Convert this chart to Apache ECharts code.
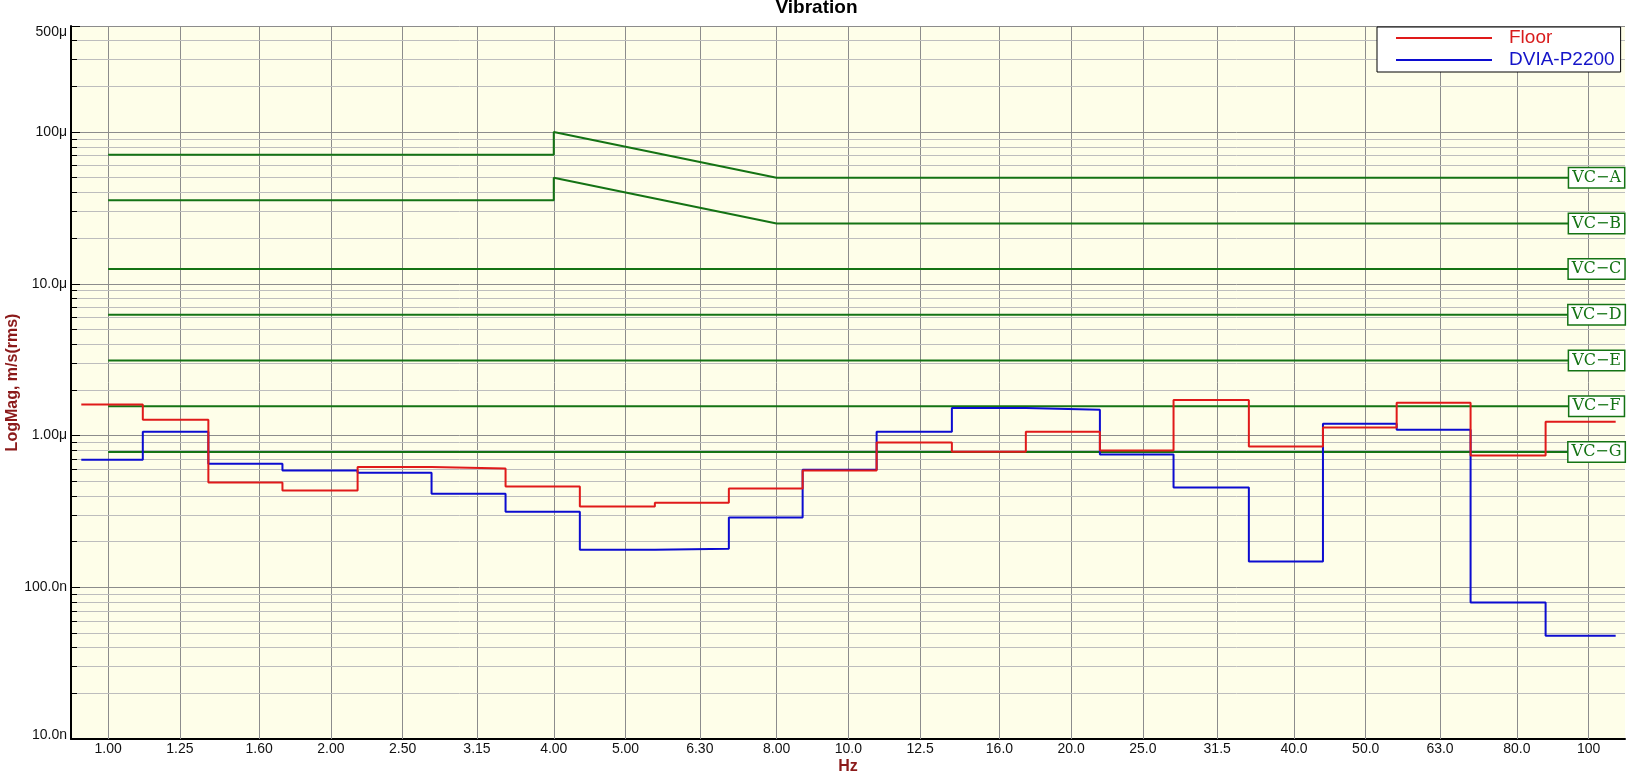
<!DOCTYPE html>
<html>
<head>
<meta charset="utf-8">
<title>Vibration</title>
<script src="https://cdn.jsdelivr.net/npm/echarts@6/dist/echarts.min.js"></script>
<style>
  html, body { margin: 0; padding: 0; background: #fff; }
  #vib { width: 1633px; height: 776px; }
</style>
</head>
<body>
<div id="vib"></div>
<script>
// 1/3 octave bands (Hz), nominal labels
var bandLabels = ['1.00','1.25','1.60','2.00','2.50','3.15','4.00','5.00','6.30','8.00','10.0',
                  '12.5','16.0','20.0','25.0','31.5','40.0','50.0','63.0','80.0','100'];
var bandHz = [1, 1.25, 1.6, 2, 2.5, 3.15, 4, 5, 6.3, 8, 10, 12.5, 16, 20, 25, 31.5, 40, 50, 63, 80, 100];
// where the plotted steps change level (Hz)
var bandEdgesHz = [0.920, 1.114, 1.366, 1.720, 2.173, 2.735, 3.443, 4.338, 5.478, 6.896, 8.675,
                   10.92, 13.80, 17.37, 21.87, 27.50, 34.76, 43.77, 55.05, 69.28, 87.49, 108.8];

// velocity, um/s rms
var floorVals = [1.60, 1.27, 0.49, 0.435, 0.62, 0.607, 0.462, 0.341, 0.361, 0.448, 0.589,
                 0.90, 0.782, 1.06, 0.798, 1.714, 0.848, 1.131, 1.644, 0.739, 1.233];
var dviaVals = [0.693, 1.06, 0.652, 0.589, 0.569, 0.413, 0.315, 0.177, 0.1795, 0.2886, 0.595,
                1.06, 1.517, 1.479, 0.751, 0.455, 0.148, 1.197, 1.092, 0.0795, 0.048];

// VC criteria, um/s
var vcNames = ['VC\u2212A', 'VC\u2212B', 'VC\u2212C', 'VC\u2212D', 'VC\u2212E', 'VC\u2212F', 'VC\u2212G'];
var vcLevels = [50, 25, 12.5, 6.25, 3.12, 1.56, 0.78];
var vcBelow4Hz = [71, 35.5];   // VC-A, VC-B below 4 Hz
var vcAt4Hz = [100, 50];       // VC-A, VC-B peak at 4 Hz, falling to level at 8 Hz

var yTickVals = [0.01, 0.1, 1, 10, 100, 500];
var yTickLabels = ['10.0n', '100.0n', '1.00\u03bc', '10.0\u03bc', '100\u03bc', '500\u03bc'];

var xMin = 0.891, xMax = 112, yMin = 0.01, yMax = 500;

var FONT = 'Liberation Sans, Arial, sans-serif';
var AXIS_RED = '#8b1a1a';
var GREEN = '#147314';

function stepData(vals) {
    var out = [];
    for (var i = 0; i < vals.length; i++) {
        out.push([bandEdgesHz[i], vals[i]]);
        out.push([bandEdgesHz[i + 1], vals[i]]);
    }
    return out;
}

// minor horizontal grid lines 2..9 per decade
var yMinor = [];
for (var d = 0.01; d < 200; d *= 10) {
    for (var k = 2; k <= 9; k++) {
        var v = +(d * k).toPrecision(3);
        if (v < yMax) yMinor.push(v);
    }
}

var tickEnd = xMin * Math.pow(10, 6 / 740);

var chart = echarts.init(document.getElementById('vib'));

var vcSeries = vcNames.map(function (name, i) {
    var data;
    if (i < 2) {
        data = [[1, vcBelow4Hz[i]], [4, vcBelow4Hz[i]], [4, vcAt4Hz[i]], [8, vcLevels[i]], [100, vcLevels[i]]];
    } else {
        data = [[1, vcLevels[i]], [100, vcLevels[i]]];
    }
    return {
        name: name,
        type: 'line',
        data: data,
        showSymbol: false,
        silent: true,
        z: 3,
        lineStyle: { color: GREEN, width: 2 },
        markPoint: {
            silent: true,
            z: 6,
            symbol: 'rect',
            symbolSize: 1,
            itemStyle: { color: 'rgba(0,0,0,0)' },
            label: {
                show: true,
                position: 'inside',
                offset: [8, 0],
                formatter: name,
                fontFamily: 'DejaVu Serif, serif',
                fontSize: 16,
                color: GREEN,
                backgroundColor: '#ffffff',
                borderColor: GREEN,
                borderWidth: 1.5,
                padding: [2, 3, 1, 3]
            },
            data: [{ coord: [100, vcLevels[i]] }]
        }
    };
});

option = {
    animation: false,
    backgroundColor: '#ffffff',
    textStyle: { fontFamily: FONT },
    title: {
        text: 'Vibration',
        left: 'center',
        top: -2,
        padding: 0,
        textStyle: { fontSize: 19, fontWeight: 'bold', color: '#000', fontFamily: FONT }
    },
    legend: {
        orient: 'vertical',
        left: 1377,
        top: 27,
        padding: [1, 6, 2, 19],
        itemGap: 2,
        itemWidth: 96,
        itemHeight: 2,
        icon: 'rect',
        backgroundColor: '#ffffff',
        borderColor: '#000',
        borderWidth: 1,
        selectedMode: false,
        textStyle: { fontSize: 19, lineHeight: 20, padding: [0, 0, 0, 12], fontFamily: FONT },
        data: [
            { name: 'Floor', textStyle: { color: '#d81c1c' } },
            { name: 'DVIA-P2200', textStyle: { color: '#1414c8' } }
        ]
    },
    grid: {
        left: 71, right: 8, top: 26, bottom: 37,
        outerBoundsMode: 'none',
        containLabel: false,
        show: true,
        backgroundColor: '#fefee9',
        borderWidth: 0
    },
    xAxis: {
        type: 'log',
        logBase: 10,
        min: xMin,
        max: xMax,
        name: 'Hz',
        nameLocation: 'middle',
        nameGap: 20,
        nameTextStyle: { color: AXIS_RED, fontSize: 16, fontWeight: 'bold', fontFamily: FONT },
        axisLine: { show: true, onZero: false, lineStyle: { color: '#000', width: 2 } },
        axisTick: { show: false },
        axisLabel: { show: false },
        splitLine: { show: false }
    },
    yAxis: {
        type: 'log',
        logBase: 10,
        min: yMin,
        max: yMax,
        name: 'LogMag, m/s(rms)',
        nameLocation: 'middle',
        nameGap: 50,
        nameMoveOverlap: false,
        nameTextStyle: { color: AXIS_RED, fontSize: 16, fontWeight: 'bold', fontFamily: FONT },
        axisLine: { show: true, lineStyle: { color: '#000', width: 2 } },
        axisTick: { show: true, inside: true, length: 9, lineStyle: { color: '#000', width: 1 } },
        axisLabel: {
            margin: 4,
            fontSize: 14,
            color: '#111',
            showMinLabel: true,
            showMaxLabel: true,
            formatter: function (val) {
                for (var i = 0; i < yTickVals.length; i++) {
                    if (Math.abs(Math.log10(val) - Math.log10(yTickVals[i])) < 0.01) {
                        if (i === yTickVals.length - 1) return '{top|' + yTickLabels[i] + '}';
                        if (i === 0) return '{bot|' + yTickLabels[i] + '}';
                        return yTickLabels[i];
                    }
                }
                return '';
            },
            rich: {
                top: { fontSize: 14, color: '#111', padding: [12, 0, 0, 0] },
                bot: { fontSize: 14, color: '#111', padding: [0, 0, 8, 0] }
            }
        },
        splitLine: { show: true, lineStyle: { color: '#8c8c8c', width: 1 } }
    },
    series: [
        {
            name: 'grid-x',
            type: 'line',
            data: [],
            silent: true,
            clip: false,
            markLine: {
                silent: true,
                z: 1,
                symbol: ['none', 'none'],
                lineStyle: { color: '#8c8c8c', width: 1, type: 'solid' },
                label: { show: true, position: 'start', distance: 3, color: '#111', fontSize: 14, fontFamily: FONT },
                data: bandHz.map(function (f, i) {
                    return { xAxis: f, label: { formatter: bandLabels[i] } };
                })
            }
        },
        {
            name: 'grid-y',
            type: 'line',
            data: [],
            silent: true,
            markLine: {
                silent: true,
                z: 1,
                symbol: ['none', 'none'],
                lineStyle: { color: '#bdbdbd', width: 1, type: 'solid' },
                label: { show: false },
                data: yMinor.map(function (v) { return { yAxis: v }; })
            }
        },
        {
            name: 'ticks-y',
            type: 'line',
            data: [],
            silent: true,
            markLine: {
                silent: true,
                z: 4,
                symbol: ['none', 'none'],
                lineStyle: { color: '#000', width: 1, type: 'solid' },
                label: { show: false },
                data: yMinor.map(function (v) { return [{ coord: [xMin, v] }, { coord: [tickEnd, v] }]; })
            }
        }
    ].concat(vcSeries).concat([
        {
            name: 'DVIA-P2200',
            type: 'line',
            data: stepData(dviaVals),
            showSymbol: false,
            z: 4,
            color: '#0c0cd0',
            lineStyle: { color: '#0c0cd0', width: 2 }
        },
        {
            name: 'Floor',
            type: 'line',
            data: stepData(floorVals),
            showSymbol: false,
            z: 4,
            color: '#e01a1a',
            lineStyle: { color: '#e01a1a', width: 2 }
        }
    ])
};

chart.setOption(option);
</script>
</body>
</html>
